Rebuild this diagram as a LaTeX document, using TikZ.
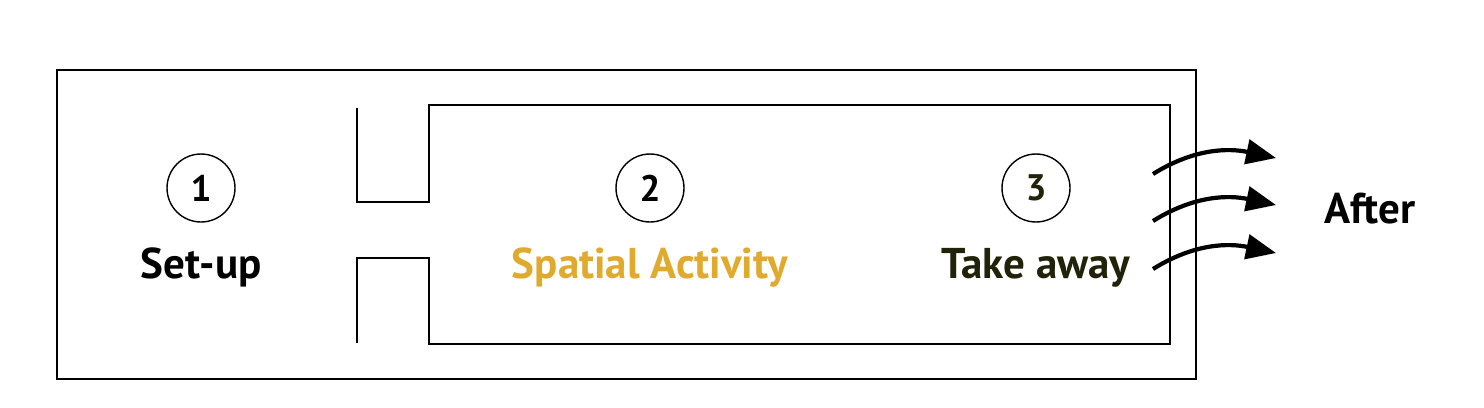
\documentclass[tikz,border=0pt]{standalone}
\usepackage{fontspec}
\setmainfont{PT Sans}
\usepackage{xcolor}
\usetikzlibrary{arrows.meta}
\definecolor{dorado}{RGB}{224,170,46}
\definecolor{oliva}{RGB}{34,34,8}

\begin{document}
\begin{tikzpicture}[x = 0.02cm, y = -0.02cm,
		paso/.style = {circle, draw, line width = 0.8pt, minimum size = 1.36cm, inner sep = 0pt, font = \fontsize{21}{21}\selectfont\bfseries},
		etiqueta/.style = {anchor = base, font = \fontsize{24.5}{24.5}\selectfont\bfseries},
		pared/.style = {line width = 1.2pt},
		flecha/.style = {line width = 2.4pt, -{Triangle[length = 17pt, width = 14pt]}}]
						\useasboundingbox (0,0) rectangle (1484,407);
						\draw[pared] (57,70) rectangle (1196,379);
						\draw[pared] (357,108) -- (357,202) -- (429,202) -- (429,105) -- (1170,105) -- (1170,344) -- (429,344) -- (429,258) -- (357,258) -- (357,343);
						\node[paso] (uno) at (201,188) {1};
						\node[paso] (dos) at (650,188) {2};
						\node[paso, text = oliva] (tres) at (1036,188) {3};
						\node[etiqueta] (setup) at (201,278) {Set-up};
						\node[etiqueta, text = dorado] (actividad) at (650,278) {Spatial Activity};
						\node[etiqueta, text = oliva] (llevar) at (1036,278) {Take away};
						\node[etiqueta] (despues) at (1370,223) {After};
						\foreach \i/\y in {a/0, b/47, c/95} {
							\coordinate (ini\i) at (1153,174+\y);
							\coordinate (fin\i) at (1276,158+\y);
							\draw[flecha] (ini\i) to[out = 32, in = 168] (fin\i);
						}
					\end{tikzpicture}
\end{document}
